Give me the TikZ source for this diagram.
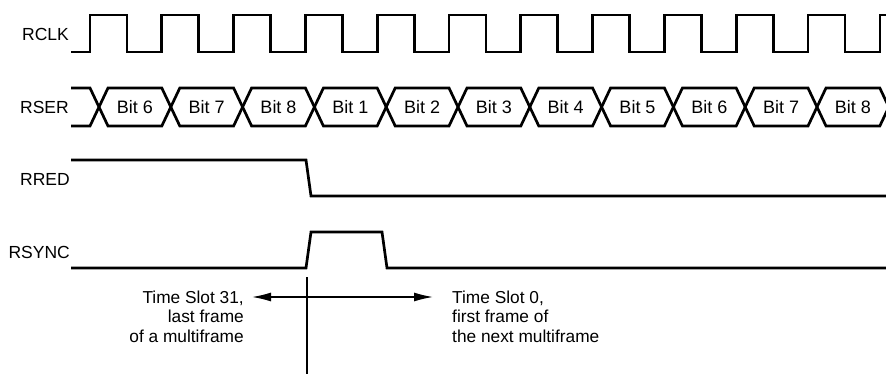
\documentclass[tikz,border=0pt]{standalone}
\usepackage{fontspec}
\setmainfont{Liberation Sans}
\usetikzlibrary{arrows.meta}
\tikzset{
  wave/.style={line width=2.7pt, line join=miter, line cap=butt},
  siglabel/.style={anchor=east, inner sep=0pt, font=\fontsize{17.5}{19.5}\selectfont},
  bitlabel/.style={inner sep=0pt, font=\fontsize{18}{19.5}\selectfont},
  note/.style={inner sep=0pt, font=\fontsize{17.3}{19.5}\selectfont},
  marker/.style={line width=1.5pt},
  slotarrow/.style={line width=1.4pt, {Latex[length=19pt,width=9pt]}-{Latex[length=19pt,width=9pt]}}
}
\begin{document}
\begin{tikzpicture}[x=1pt,y=-1pt]
\useasboundingbox (0,0) rectangle (886,374);
\begin{scope}
\clip (0,0) rectangle (886,374);
% RCLK
\draw[wave] (71,52) \foreach \k in {0,...,10}{ -- ({90+71.8*\k},52) -- ({90+71.8*\k},15) -- ({127+71.8*\k},15) -- ({127+71.8*\k},52) } -- (880,52) -- (880,15) -- (890,15);
% RSER leading part
\draw[wave] (71,88) -- (90,88) -- (99,107) -- (90,126) -- (71,126);
% RSER cells
\foreach \k/\t in {0/6,1/7,2/8,3/1,4/2,5/3,6/4,7/5,8/6,9/7,10/8}{
  \pgfmathsetmacro{\ca}{99+71.8*\k}
  \pgfmathsetmacro{\cb}{99+71.8*(\k+1)}
  \draw[wave] (\ca,107) -- ({\ca+9},88) -- ({\cb-9},88) -- (\cb,107) -- ({\cb-9},126) -- ({\ca+9},126) -- cycle;
  \node[bitlabel] (bit\k) at ({(\ca+\cb)/2},107) {Bit \t};
}
% RRED
\draw[wave] (71,160) -- (306,160) -- (311,196) -- (890,196);
% RSYNC
\draw[wave] (71,268) -- (306,268) -- (311,232) -- (382,232) -- (387,268) -- (890,268);
\end{scope}
% signal labels
\node[siglabel] (rclk) at (69,34) {RCLK};
\node[siglabel] (rser) at (69,107) {RSER};
\node[siglabel] (rred) at (70,179) {RRED};
\node[siglabel] (rsync) at (70,252) {RSYNC};
% frame boundary marker
\coordinate (mtop) at (307,277);
\coordinate (mbot) at (307,374);
\draw[marker] (mtop) -- (mbot);
\coordinate (aL) at (252,297);
\coordinate (aR) at (433,297);
\draw[slotarrow] (aL) -- (aR);
% notes
\node[note, anchor=north east, align=right] (left) at (244,290.5) {Time Slot 31,\\last frame\\of a multiframe};
\node[note, anchor=north west, align=left] (right) at (452,290.5) {Time Slot 0,\\first frame of\\the next multiframe};
\end{tikzpicture}
\end{document}
